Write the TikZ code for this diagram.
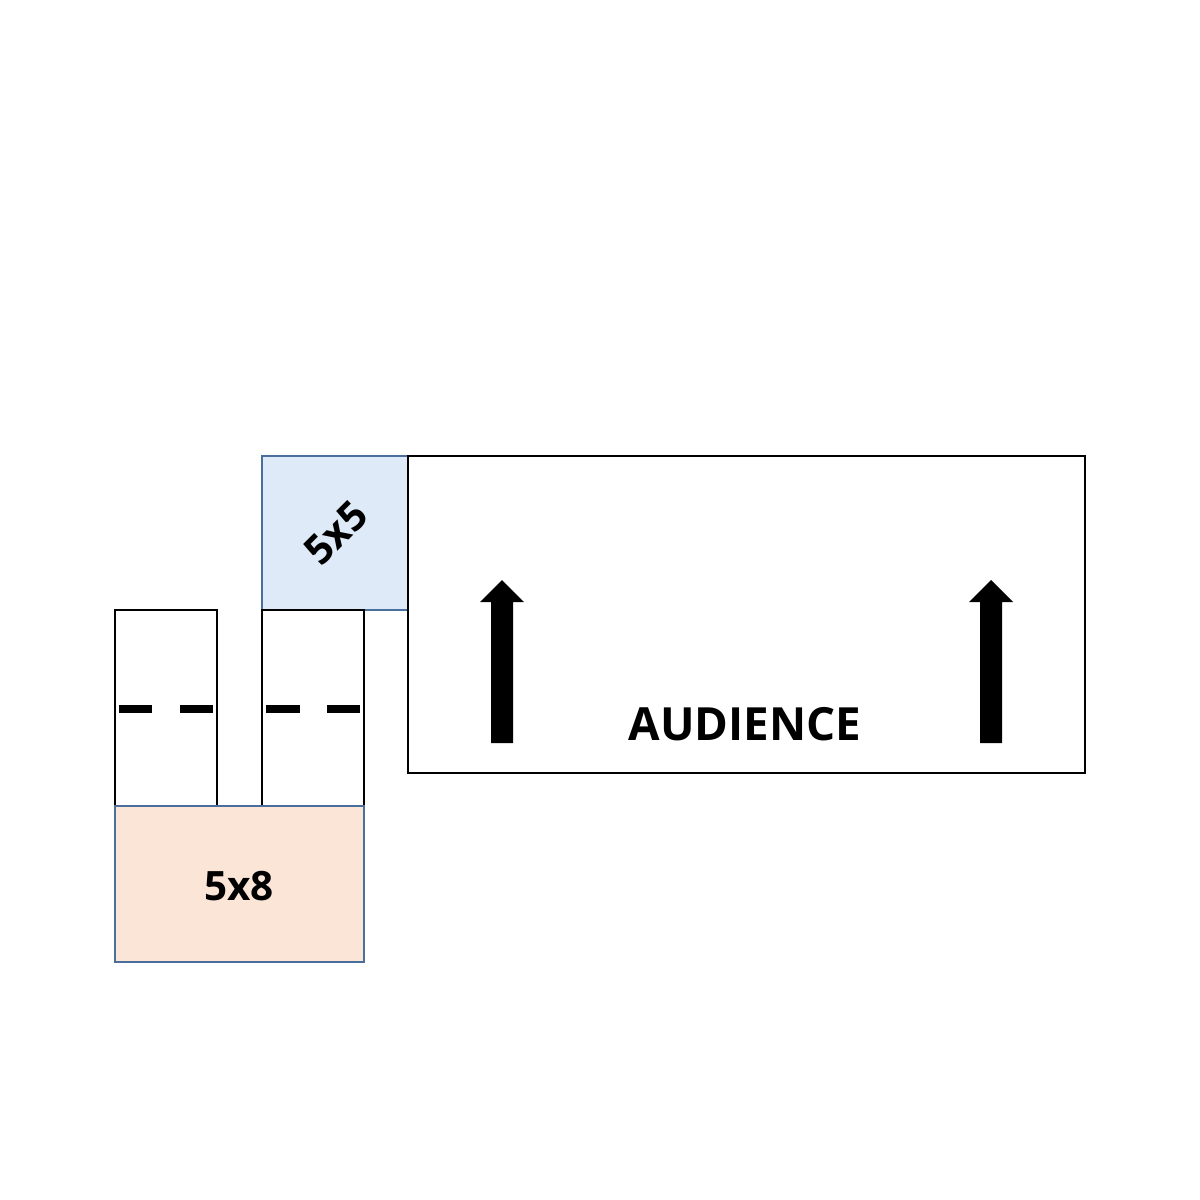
\documentclass[tikz,border=0pt]{standalone}
\usepackage{fontspec}
\setmainfont{Open Sans}
\definecolor{bl}{HTML}{4A6F9C}
\definecolor{lb}{HTML}{DEEAF7}
\definecolor{pk}{HTML}{FBE5D7}
\begin{document}
\begin{tikzpicture}[x=0.01cm,y=-0.01cm,
 box/.style={draw=black,line width=0.7pt},
 cbox/.style={draw=bl,line width=0.7pt},
 dashmark/.style={line width=2pt},
 lbl/.style={font=\bfseries\fontsize{11.5pt}{11.5pt}\selectfont}]
\useasboundingbox (0,0) rectangle (1200,1200);
\filldraw[cbox,fill=lb] (262,456) rectangle (408,610);
\node[lbl,rotate=45] (t55) at (336,533) {5x5};
\draw[box] (408,456) rectangle (1085,773);
\node[lbl,font=\bfseries\fontsize{13pt}{13pt}\selectfont] (aud) at (745,724) {AUDIENCE};
\draw[box] (115,610) rectangle (217,806);
\draw[box] (262,610) rectangle (364,806);
\draw[dashmark] (119,709)--(152,709) (180,709)--(213,709) (266,709)--(300,709) (327,709)--(360,709);
\filldraw[cbox,fill=pk] (115,806) rectangle (364,962);
\node[lbl] (t58) at (239,886) {5x8};
\foreach \x in {502,991}{
\fill (\x-11,743)--(\x-11,602)--(\x-22,602)--(\x,580)--(\x+22,602)--(\x+11,602)--(\x+11,743)--cycle;}
\end{tikzpicture}
\end{document}
